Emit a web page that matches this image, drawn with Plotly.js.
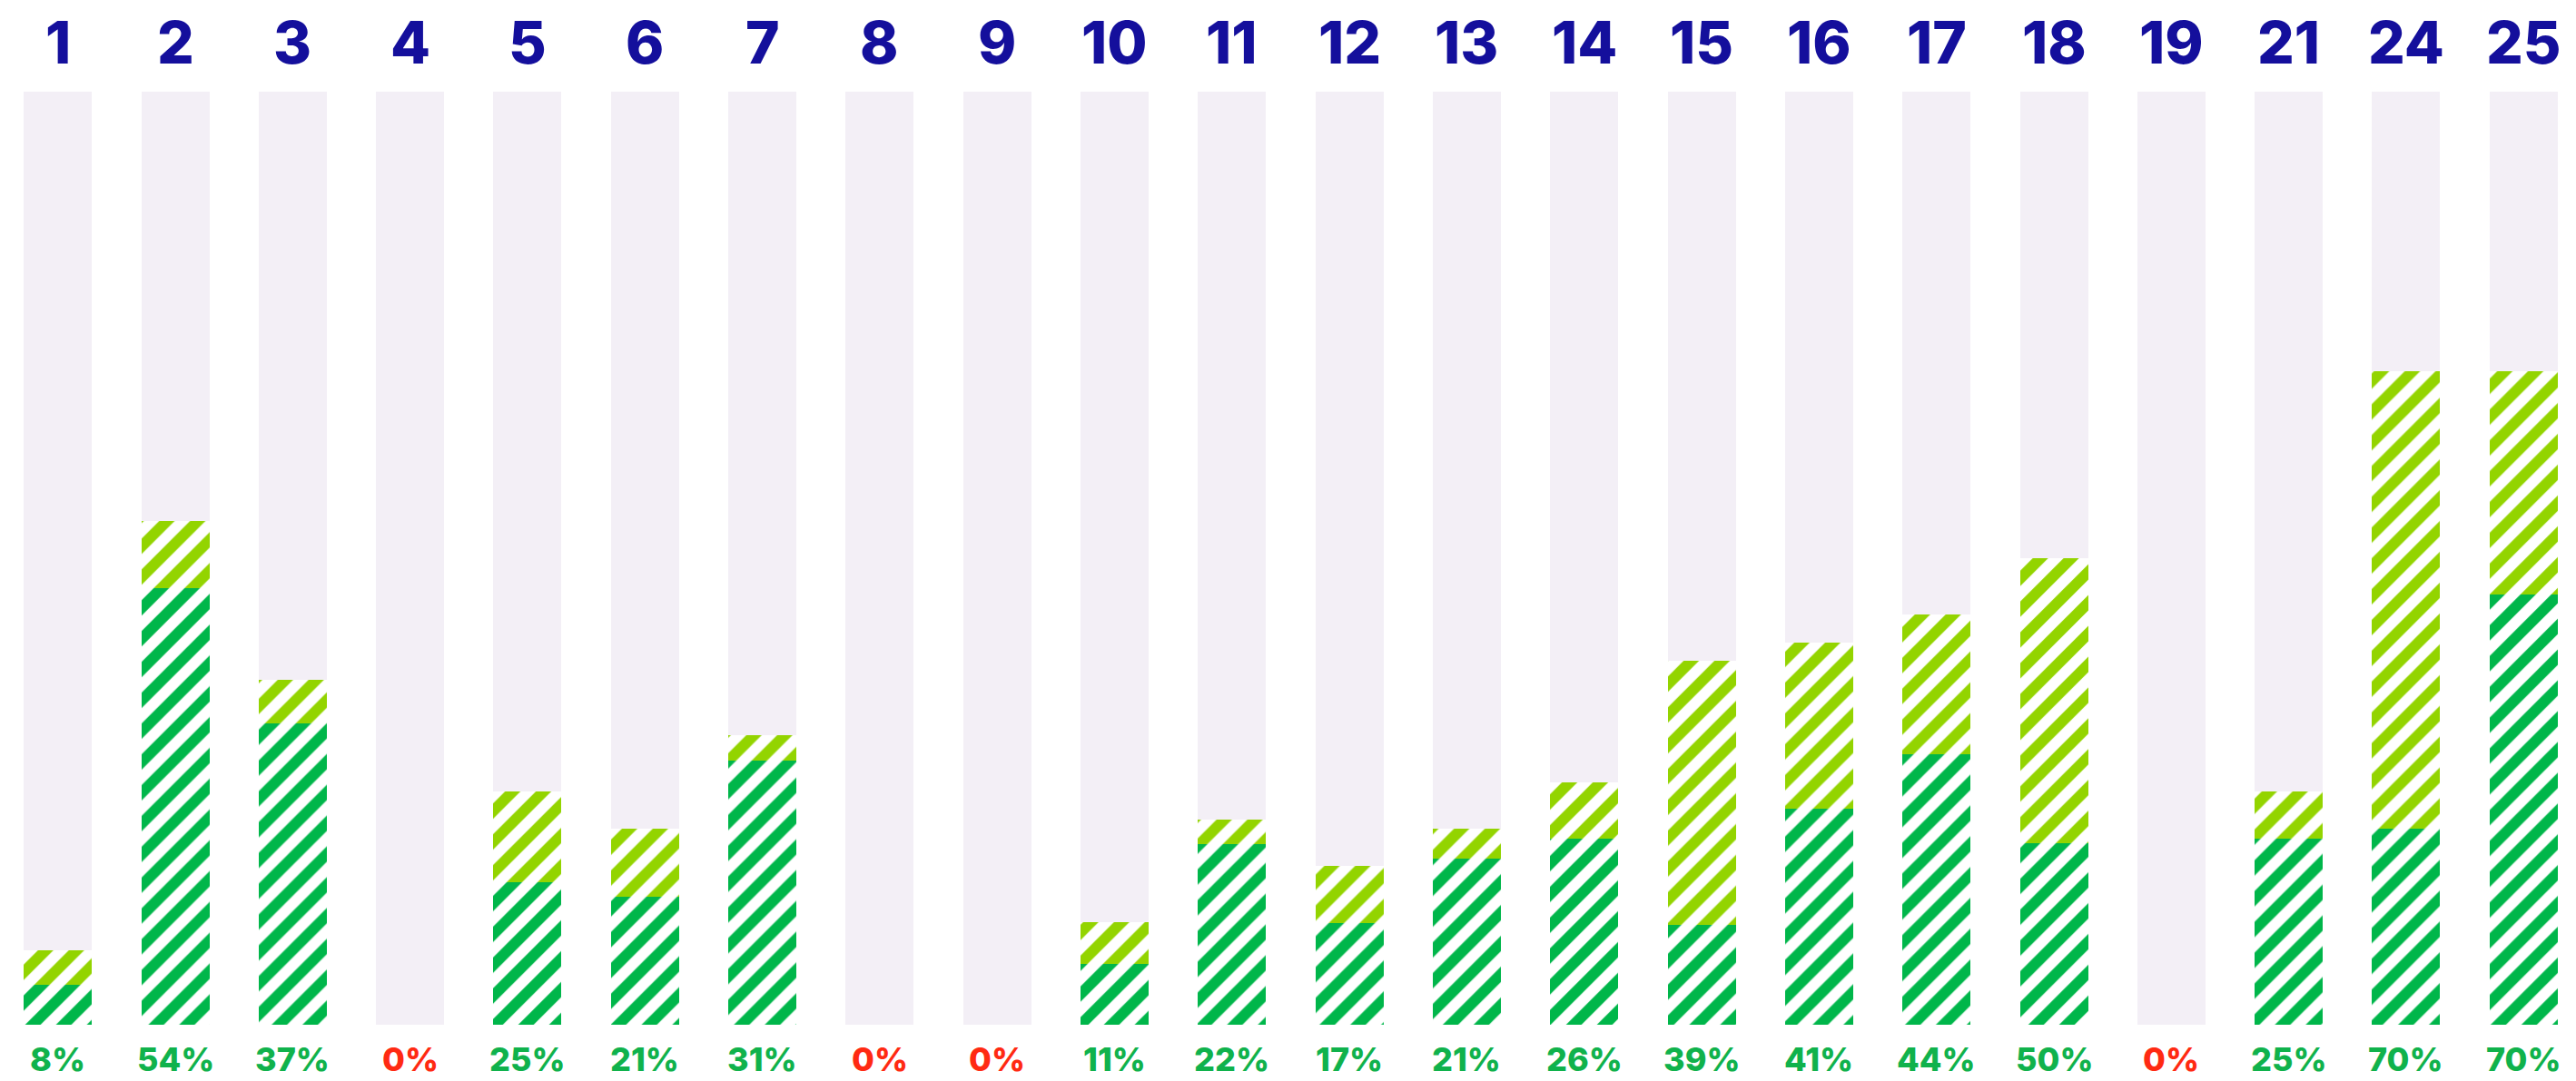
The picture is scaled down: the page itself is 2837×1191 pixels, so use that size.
<!DOCTYPE html>
<html>
<head>
<meta charset="utf-8">
<script src="https://cdn.plot.ly/plotly-3.0.1.min.js"></script>
<style>
  html, body { margin: 0; padding: 0; background: #ffffff; }
  #chart { width: 2837px; height: 1191px; }
</style>
</head>
<body>
<div id="chart"></div>
<script>
// ---- data ----
const categories = ['1','2','3','4','5','6','7','8','9','10','11','12','13','14','15','16','17','18','19','21','24','25'];
const totals     = [8, 54, 37, 0, 25, 21, 31, 0, 0, 11, 22, 17, 21, 26, 39, 41, 44, 50, 0, 25, 70, 70];
const darkPart   = [4.3, 46.8, 32.3, 0, 15.3, 13.7, 28.3, 0, 0, 6.5, 19.4, 10.9, 17.8, 19.9, 10.7, 23.2, 29.0, 19.5, 0, 19.9, 21.0, 46.1];
const lightPart  = [3.7, 7.2, 4.7, 0, 9.7, 7.3, 2.7, 0, 0, 4.5, 2.6, 6.1, 3.2, 6.1, 28.3, 17.8, 15.0, 30.5, 0, 5.1, 49.0, 23.9];
const fullScale  = categories.map(() => 100);

// ---- styles ----
const C_BG = '#F3EFF6', C_DARK = '#00B64A', C_LIGHT = '#93D400';
const C_BLUE = '#140F9C', C_LABEL = '#10B24C', C_RED = '#FF2A12';
const FONT = 'Inter, "Open Sans", sans-serif';
const BARW = 0.58;

const traces = [
  { type: 'bar', x: categories, y: fullScale, width: BARW,
    marker: { color: C_BG, line: { width: 0 } }, hoverinfo: 'skip', showlegend: false },
  { type: 'bar', x: categories, y: darkPart, width: BARW,
    marker: { color: C_DARK, line: { width: 0 },
      pattern: { shape: '/', fillmode: 'replace', fgcolor: C_DARK, bgcolor: '#ffffff', size: 24, solidity: 0.5 } },
    showlegend: false },
  { type: 'bar', x: categories, y: lightPart, base: darkPart, width: BARW,
    marker: { color: C_LIGHT, line: { width: 0 },
      pattern: { shape: '/', fillmode: 'replace', fgcolor: C_LIGHT, bgcolor: '#ffffff', size: 24, solidity: 0.5 } },
    showlegend: false }
];

// category axis: annotation x given as the category's index position
const annotations = [];
categories.forEach((c, i) => {
  annotations.push({ x: i, xref: 'x', yref: 'paper', y: 1.0535, yanchor: 'middle', xanchor: 'center',
    text: c, showarrow: false, font: { family: FONT, size: 64, color: C_BLUE, weight: 800 } });
  annotations.push({ x: i, xref: 'x', yref: 'paper', y: -0.037, yanchor: 'middle', xanchor: 'center',
    text: totals[i] + '%', showarrow: false,
    font: { family: FONT, size: 36, color: totals[i] === 0 ? C_RED : C_LABEL, weight: 800 } });
});

const layout = {
  width: 2837, height: 1191,
  margin: { l: 12, r: 6, t: 101, b: 62, pad: 0 },
  paper_bgcolor: '#ffffff', plot_bgcolor: '#ffffff',
  barmode: 'overlay', bargap: 0,
  showlegend: false,
  xaxis: { type: 'category', range: [-0.4, 21.4], showticklabels: false, ticks: '',
    showgrid: false, zeroline: false, showline: false, fixedrange: true },
  yaxis: { range: [0, 100], showticklabels: false, ticks: '', showgrid: false,
    zeroline: false, showline: false, fixedrange: true },
  annotations: annotations
};

Plotly.newPlot('chart', traces, layout, { displayModeBar: false, staticPlot: true });
</script>
</body>
</html>
